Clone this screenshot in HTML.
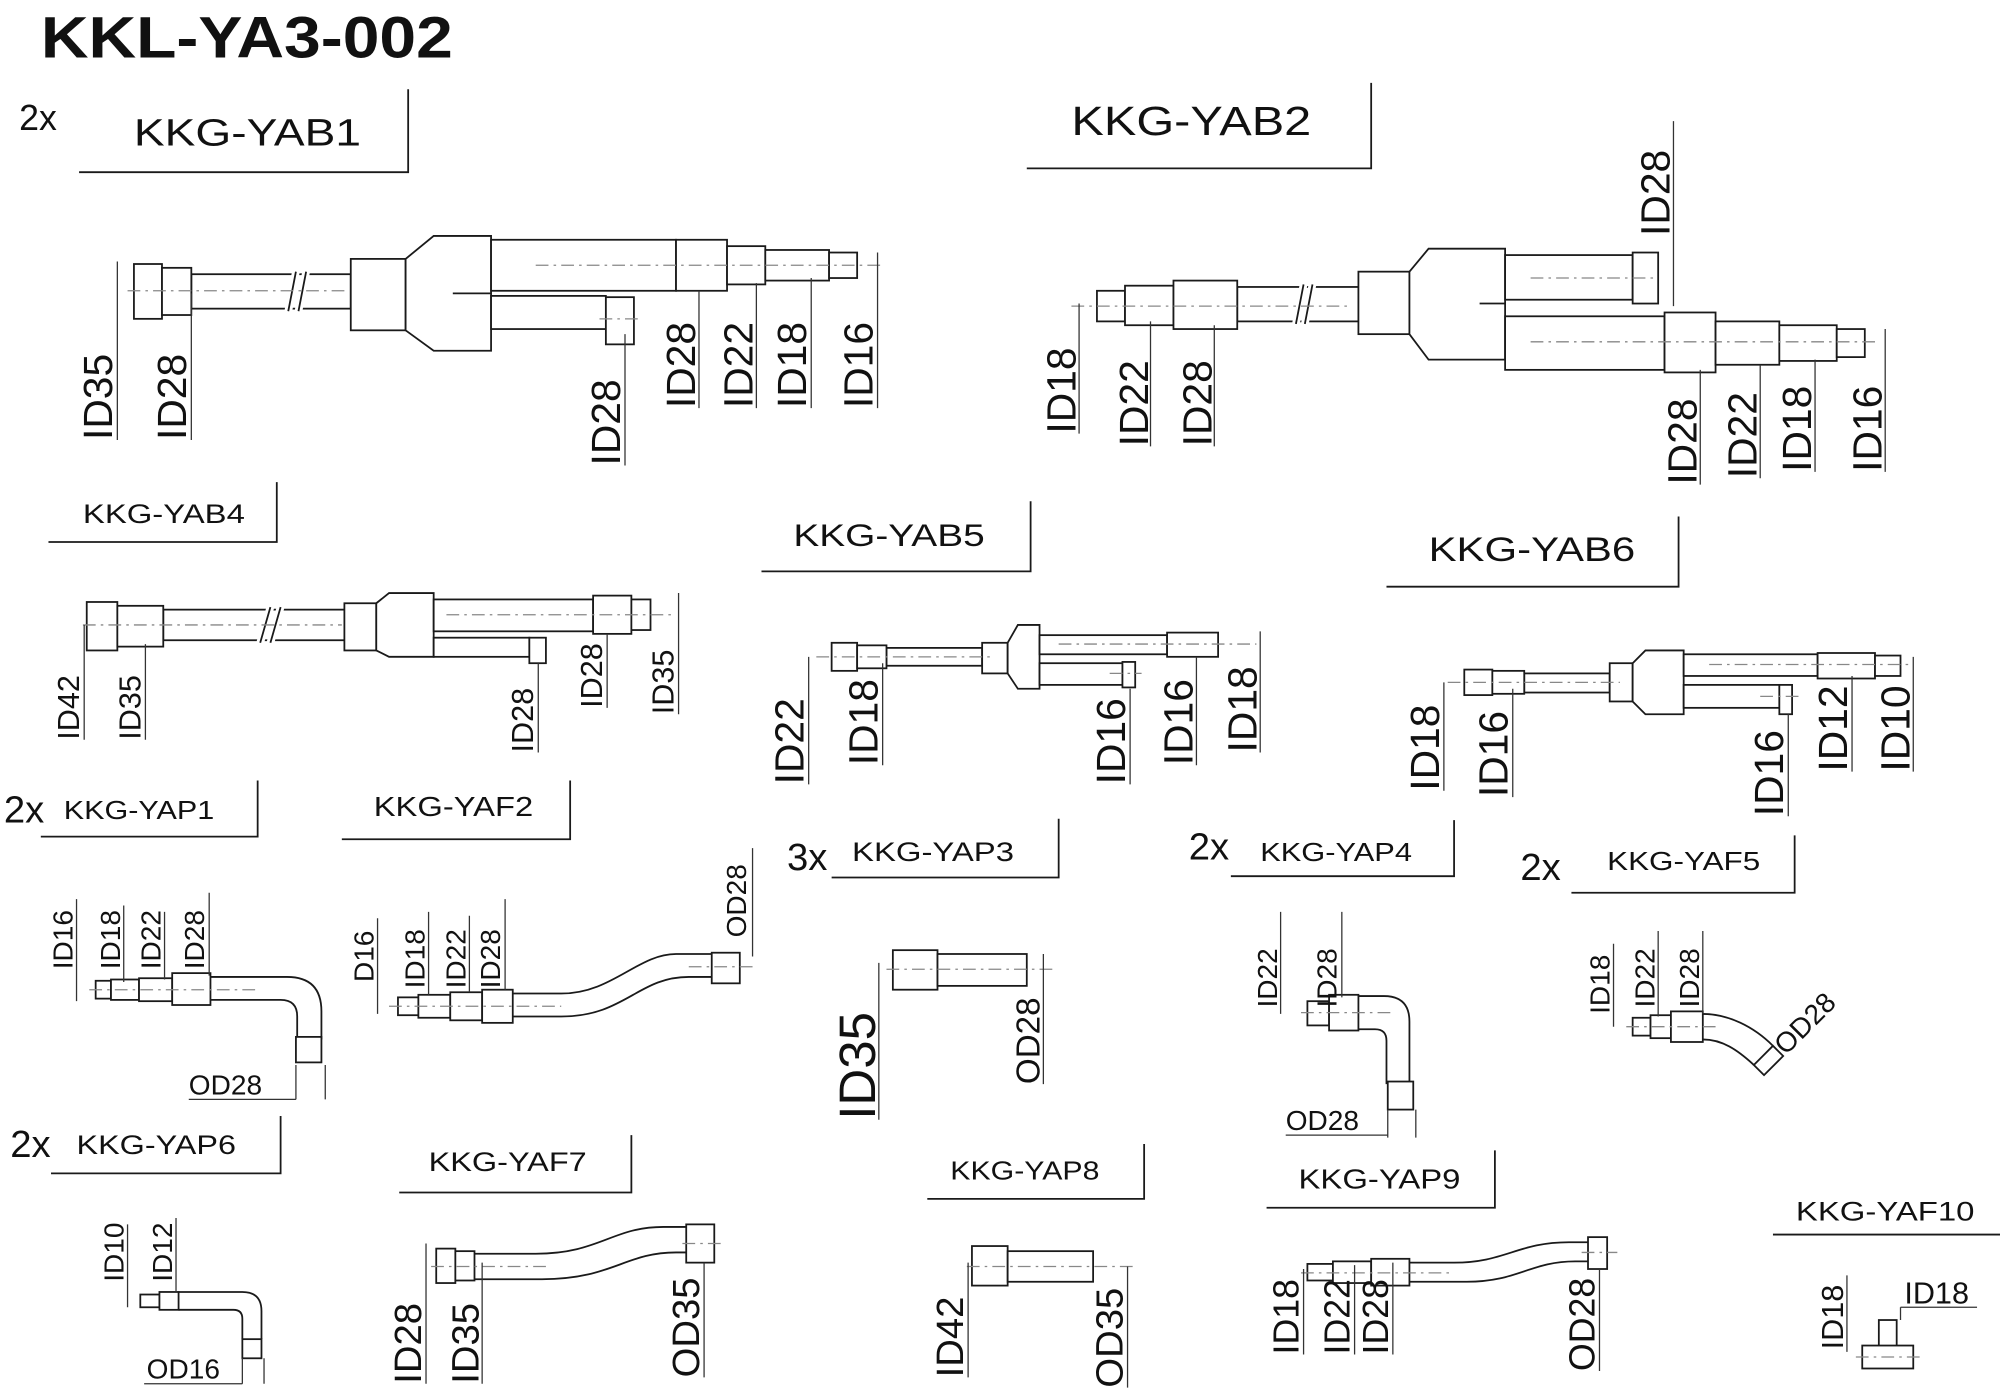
<!DOCTYPE html>
<html><head><meta charset="utf-8"><style>
html,body{margin:0;padding:0;background:#fff;}
svg{display:block;}
text{font-family:"Liberation Sans",sans-serif;fill:#111;}
.s{stroke:#1a1a1a;stroke-width:1.4;fill:#fff;}
.l{stroke:#1a1a1a;stroke-width:1.4;fill:none;}
.c{stroke:#888;stroke-width:1;fill:none;stroke-dasharray:10 4 2 4;}
.d{stroke:#333;stroke-width:1;fill:none;}
.r{font-size:32px;}
</style></head><body>
<svg width="2000" height="1394" viewBox="0 0 1568 1093" preserveAspectRatio="none" xmlns="http://www.w3.org/2000/svg">
<text x="32" y="45" style="font-size:46px;font-weight:bold" textLength="323" lengthAdjust="spacingAndGlyphs">KKL-YA3-002</text>

<!-- labels -->
<g class="l">
<path d="M62 135H320V70"/><path d="M805 132H1075V65"/><path d="M38 425H217V378"/>
<path d="M597 448H808V393"/><path d="M1087 460H1316V405"/><path d="M32 656H202V612"/>
<path d="M268 658H447V612"/><path d="M652 688H830V642"/><path d="M965 687H1140V643"/>
<path d="M1232 700H1407V655"/><path d="M40 920H220V875"/><path d="M313 935H495V890"/>
<path d="M727 940H897V897"/><path d="M993 947H1172V902"/><path d="M1390 968H1568"/>
</g>
<g style="" >
<text x="15" y="102" style="font-size:28px">2x</text>
<text x="105" y="114" style="font-size:30px" textLength="178" lengthAdjust="spacingAndGlyphs">KKG-YAB1</text>
<text x="840" y="106" style="font-size:32px" textLength="188" lengthAdjust="spacingAndGlyphs">KKG-YAB2</text>
<text x="65" y="410" style="font-size:21px" textLength="127" lengthAdjust="spacingAndGlyphs">KKG-YAB4</text>
<text x="622" y="428" style="font-size:25px" textLength="150" lengthAdjust="spacingAndGlyphs">KKG-YAB5</text>
<text x="1120" y="440" style="font-size:27px" textLength="162" lengthAdjust="spacingAndGlyphs">KKG-YAB6</text>
<text x="3" y="645" style="font-size:30px">2x</text><text x="50" y="642" style="font-size:20px" textLength="118" lengthAdjust="spacingAndGlyphs">KKG-YAP1</text>
<text x="293" y="640" style="font-size:22px" textLength="125" lengthAdjust="spacingAndGlyphs">KKG-YAF2</text>
<text x="617" y="682" style="font-size:30px">3x</text><text x="668" y="675" style="font-size:21px" textLength="127" lengthAdjust="spacingAndGlyphs">KKG-YAP3</text>
<text x="932" y="674" style="font-size:30px">2x</text><text x="988" y="675" style="font-size:20px" textLength="119" lengthAdjust="spacingAndGlyphs">KKG-YAP4</text>
<text x="1192" y="690" style="font-size:30px">2x</text><text x="1260" y="682" style="font-size:20px" textLength="120" lengthAdjust="spacingAndGlyphs">KKG-YAF5</text>
<text x="8" y="907" style="font-size:30px">2x</text><text x="60" y="905" style="font-size:21px" textLength="125" lengthAdjust="spacingAndGlyphs">KKG-YAP6</text>
<text x="336" y="918" style="font-size:21px" textLength="124" lengthAdjust="spacingAndGlyphs">KKG-YAF7</text>
<text x="745" y="925" style="font-size:20px" textLength="117" lengthAdjust="spacingAndGlyphs">KKG-YAP8</text>
<text x="1018" y="932" style="font-size:22px" textLength="127" lengthAdjust="spacingAndGlyphs">KKG-YAP9</text>
<text x="1408" y="957" style="font-size:21px" textLength="140" lengthAdjust="spacingAndGlyphs">KKG-YAF10</text>
</g>

<!-- YAB1 -->
<g>
<rect class="s" x="150" y="215" width="125" height="27"/>
<path class="l" d="M232 213L226 244M240 213L234 244" style="stroke:#fff;stroke-width:6"/>
<path class="l" d="M232 213L226 244M240 213L234 244"/>
<rect class="s" x="105" y="207" width="22" height="43"/><rect class="s" x="127" y="210" width="23" height="37"/>
<rect class="s" x="275" y="203" width="43" height="56"/>
<path class="s" d="M318 203L340 185H385V275H340L318 259Z"/>
<rect class="s" x="385" y="188" width="145" height="40"/>
<rect class="s" x="385" y="232" width="90" height="26"/>
<rect class="s" x="475" y="233" width="22" height="37"/>
<rect class="s" x="530" y="188" width="40" height="40"/><rect class="s" x="570" y="193" width="30" height="30"/>
<rect class="s" x="600" y="196" width="50" height="24"/><rect class="s" x="650" y="198" width="22" height="20"/>
<path class="l" d="M355 230H385"/>
<path class="c" d="M100 228H270M420 208H690M470 250H500"/>
<g class="d"><path d="M92 205V345M150 230V345M490 262V365M548 228V320M593 222V320M636 218V320M688 198V320"/></g>
<text class="r" transform="translate(88 345) rotate(-90)">ID35</text>
<text class="r" transform="translate(146 345) rotate(-90)">ID28</text>
<text class="r" transform="translate(486 365) rotate(-90)">ID28</text>
<text class="r" transform="translate(545 320) rotate(-90)">ID28</text>
<text class="r" transform="translate(590 320) rotate(-90)">ID22</text>
<text class="r" transform="translate(632 320) rotate(-90)">ID18</text>
<text class="r" transform="translate(684 320) rotate(-90)">ID16</text>
</g>

<!-- YAB2 -->
<g>
<rect class="s" x="970" y="225" width="95" height="27"/>
<path class="l" d="M1022 223L1016 254M1029 223L1023 254" style="stroke:#fff;stroke-width:6"/>
<path class="l" d="M1022 223L1016 254M1029 223L1023 254"/>
<rect class="s" x="860" y="228" width="22" height="24"/><rect class="s" x="882" y="224" width="38" height="31"/>
<rect class="s" x="920" y="220" width="50" height="38"/>
<rect class="s" x="1065" y="213" width="40" height="49"/>
<path class="s" d="M1105 213L1120 195H1180V282H1120L1105 262Z"/>
<rect class="s" x="1180" y="200" width="100" height="35"/><rect class="s" x="1280" y="198" width="20" height="40"/>
<rect class="s" x="1180" y="248" width="125" height="42"/>
<rect class="s" x="1305" y="245" width="40" height="47"/><rect class="s" x="1345" y="252" width="50" height="34"/>
<rect class="s" x="1395" y="255" width="45" height="28"/><rect class="s" x="1440" y="258" width="22" height="22"/>
<path class="l" d="M1160 238H1180"/>
<path class="c" d="M840 240H1060M1200 218H1300M1200 268H1470"/>
<g class="d"><path d="M846 238V340M902 252V350M952 255V350M1312 95V240M1333 290V380M1380 286V375M1423 282V370M1478 258V370"/></g>
<text class="r" transform="translate(843 340) rotate(-90)">ID18</text>
<text class="r" transform="translate(900 350) rotate(-90)">ID22</text>
<text class="r" transform="translate(950 350) rotate(-90)">ID28</text>
<text class="r" transform="translate(1309 185) rotate(-90)">ID28</text>
<text class="r" transform="translate(1330 380) rotate(-90)">ID28</text>
<text class="r" transform="translate(1377 375) rotate(-90)">ID22</text>
<text class="r" transform="translate(1420 370) rotate(-90)">ID18</text>
<text class="r" transform="translate(1475 370) rotate(-90)">ID16</text>
</g>

<!-- YAB4 -->
<g>
<rect class="s" x="128" y="478" width="142" height="24"/>
<path class="l" d="M212 476L204 504M220 476L212 504" style="stroke:#fff;stroke-width:6"/>
<path class="l" d="M212 476L204 504M220 476L212 504"/>
<rect class="s" x="68" y="472" width="24" height="38"/><rect class="s" x="92" y="475" width="36" height="32"/>
<rect class="s" x="270" y="473" width="25" height="37"/>
<path class="s" d="M295 473L305 465H340V515H305L295 510Z"/>
<rect class="s" x="340" y="470" width="125" height="25"/>
<rect class="s" x="340" y="500" width="75" height="15"/><rect class="s" x="415" y="500" width="13" height="20"/>
<rect class="s" x="465" y="467" width="30" height="30"/><rect class="s" x="495" y="470" width="15" height="24"/>
<path class="c" d="M65 490H268M350 482H530"/>
<g class="d"><path d="M66 490V580M114 505V580M422 520V590M476 497V555M532 465V560"/></g>
<text style="font-size:24px" transform="translate(62 580) rotate(-90)">ID42</text>
<text style="font-size:24px" transform="translate(110 580) rotate(-90)">ID35</text>
<text style="font-size:24px" transform="translate(418 590) rotate(-90)">ID28</text>
<text style="font-size:24px" transform="translate(472 555) rotate(-90)">ID28</text>
<text style="font-size:24px" transform="translate(528 560) rotate(-90)">ID35</text>
</g>

<!-- YAB5 -->
<g>
<rect class="s" x="695" y="508" width="75" height="14"/>
<rect class="s" x="652" y="504" width="20" height="22"/><rect class="s" x="672" y="506" width="23" height="18"/>
<rect class="s" x="770" y="504" width="20" height="24"/>
<path class="s" d="M790 504L798 490H815V540H798L790 528Z"/>
<rect class="s" x="815" y="498" width="100" height="15"/><rect class="s" x="915" y="496" width="40" height="19"/>
<rect class="s" x="815" y="520" width="65" height="17"/><rect class="s" x="880" y="519" width="10" height="20"/>
<path class="c" d="M640 515H780M830 505H985M870 528H895"/>
<g class="d"><path d="M634 515V615M692 520V600M886 540V615M938 515V600M988 495V590"/></g>
<text class="r" transform="translate(630 615) rotate(-90)">ID22</text>
<text class="r" transform="translate(688 600) rotate(-90)">ID18</text>
<text class="r" transform="translate(882 615) rotate(-90)">ID16</text>
<text class="r" transform="translate(935 600) rotate(-90)">ID16</text>
<text class="r" transform="translate(985 590) rotate(-90)">ID18</text>
</g>

<!-- YAB6 -->
<g>
<rect class="s" x="1195" y="528" width="67" height="15"/>
<rect class="s" x="1148" y="525" width="22" height="20"/><rect class="s" x="1170" y="526" width="25" height="18"/>
<rect class="s" x="1262" y="520" width="18" height="30"/>
<path class="s" d="M1280 520L1290 510H1320V560H1290L1280 550Z"/>
<rect class="s" x="1320" y="513" width="105" height="17"/><rect class="s" x="1425" y="512" width="45" height="20"/><rect class="s" x="1470" y="514" width="20" height="16"/>
<rect class="s" x="1320" y="537" width="75" height="18"/><rect class="s" x="1395" y="537" width="10" height="23"/>
<path class="c" d="M1135 535H1270M1340 521H1500M1380 546H1410"/>
<g class="d"><path d="M1132 535V620M1186 540V625M1402 560V640M1452 530V605M1500 515V605"/></g>
<text class="r" transform="translate(1128 620) rotate(-90)">ID18</text>
<text class="r" transform="translate(1182 625) rotate(-90)">ID16</text>
<text class="r" transform="translate(1398 640) rotate(-90)">ID16</text>
<text class="r" transform="translate(1448 605) rotate(-90)">ID12</text>
<text class="r" transform="translate(1497 605) rotate(-90)">ID10</text>
</g>

<!-- YAP1 -->
<g>
<path class="l" d="M165 766H225Q252 766 252 793V815M165 784H220Q233 784 233 797V815"/>
<rect class="s" x="232" y="813" width="20" height="20"/>
<rect class="s" x="75" y="769" width="12" height="14"/><rect class="s" x="87" y="768" width="22" height="16"/><rect class="s" x="109" y="767" width="26" height="18"/>
<rect class="s" x="135" y="763" width="30" height="25"/>
<path class="c" d="M70 776H200"/>
<g class="d"><path d="M60 705V785M97 710V770M129 715V768M164 700V765M232 835V862M255 835V862M148 862H232"/></g>
<text style="font-size:22px" transform="translate(57 760) rotate(-90)">ID16</text>
<text style="font-size:22px" transform="translate(94 760) rotate(-90)">ID18</text>
<text style="font-size:22px" transform="translate(126 760) rotate(-90)">ID22</text>
<text style="font-size:22px" transform="translate(160 760) rotate(-90)">ID28</text>
<text x="148" y="858" style="font-size:22px">OD28</text>
</g>

<!-- YAF2 -->
<g>
<path class="l" d="M400 779H440C480 779 500 748 530 748H558M400 797H440C490 797 500 766 540 766H558"/>
<rect class="s" x="312" y="782" width="16" height="14"/><rect class="s" x="328" y="780" width="25" height="18"/><rect class="s" x="353" y="778" width="25" height="22"/>
<rect class="s" x="378" y="776" width="24" height="26"/>
<rect class="s" x="558" y="747" width="22" height="24"/>
<path class="c" d="M305 789H440M540 758H590"/>
<g class="d"><path d="M296 720V795M336 715V780M368 718V778M396 705V776M590 665V750"/></g>
<text style="font-size:22px" transform="translate(293 770) rotate(-90)">D16</text>
<text style="font-size:22px" transform="translate(333 775) rotate(-90)">ID18</text>
<text style="font-size:22px" transform="translate(365 775) rotate(-90)">ID22</text>
<text style="font-size:22px" transform="translate(392 775) rotate(-90)">ID28</text>
<text style="font-size:22px" transform="translate(585 735) rotate(-90)">OD28</text>
</g>

<!-- YAP3 -->
<g>
<rect class="s" x="700" y="745" width="35" height="31"/><rect class="s" x="735" y="748" width="70" height="25"/>
<path class="c" d="M695 760H828"/>
<g class="d"><path d="M689 755V878M818 748V850"/></g>
<text style="font-size:40px" transform="translate(686 878) rotate(-90)">ID35</text>
<text style="font-size:26px" transform="translate(815 850) rotate(-90)">OD28</text>
</g>

<!-- YAP4 -->
<g>
<path class="l" d="M1065 781H1085Q1105 781 1105 801V850M1065 807H1078Q1087 807 1087 816V850"/>
<rect class="s" x="1025" y="785" width="17" height="19"/><rect class="s" x="1042" y="780" width="23" height="28"/>
<rect class="s" x="1088" y="848" width="20" height="22"/>
<path class="c" d="M1020 794H1090"/>
<g class="d"><path d="M1004 715V795M1052 715V782M1088 870V892M1110 870V892M1008 890H1088"/></g>
<text style="font-size:22px" transform="translate(1001 790) rotate(-90)">ID22</text>
<text style="font-size:22px" transform="translate(1048 790) rotate(-90)">ID28</text>
<text x="1008" y="886" style="font-size:22px">OD28</text>
</g>

<!-- YAF5 -->
<g>
<path class="l" d="M1335 795C1355 795 1375 805 1390 820M1335 815C1350 815 1362 823 1375 835"/>
<rect class="s" x="1280" y="798" width="14" height="14"/><rect class="s" x="1294" y="796" width="16" height="18"/><rect class="s" x="1310" y="793" width="25" height="24"/>
<path class="s" d="M1375 835L1390 820L1398 828L1383 843Z"/>
<path class="c" d="M1275 805H1345"/>
<g class="d"><path d="M1265 740V805M1300 730V797M1335 730V795"/></g>
<text style="font-size:22px" transform="translate(1262 795) rotate(-90)">ID18</text>
<text style="font-size:22px" transform="translate(1297 790) rotate(-90)">ID22</text>
<text style="font-size:22px" transform="translate(1332 790) rotate(-90)">ID28</text>
<text style="font-size:22px" transform="translate(1400 828) rotate(-45)">OD28</text>
</g>

<!-- YAP6 -->
<g>
<path class="l" d="M140 1013H190Q205 1013 205 1028V1050M140 1027H183Q190 1027 190 1034V1050"/>
<rect class="s" x="110" y="1015" width="15" height="10"/><rect class="s" x="125" y="1013" width="15" height="14"/>
<rect class="s" x="190" y="1050" width="15" height="15"/>
<g class="d"><path d="M100 960V1025M138 955V1013M190 1065V1085M207 1065V1085M113 1085H190"/></g>
<text style="font-size:22px" transform="translate(97 1005) rotate(-90)">ID10</text>
<text style="font-size:22px" transform="translate(135 1005) rotate(-90)">ID12</text>
<text x="115" y="1081" style="font-size:22px">OD16</text>
</g>

<!-- YAF7 -->
<g>
<path class="l" d="M372 983H420C470 983 480 962 520 962H538M372 1003H425C480 1003 490 982 530 982H538"/>
<rect class="s" x="342" y="979" width="15" height="27"/><rect class="s" x="357" y="981" width="15" height="23"/>
<rect class="s" x="538" y="960" width="22" height="30"/>
<path class="c" d="M338 993H430M535 975H565"/>
<g class="d"><path d="M334 975V1085M378 990V1085M552 990V1080"/></g>
<text style="font-size:30px" transform="translate(330 1085) rotate(-90)">ID28</text>
<text style="font-size:30px" transform="translate(375 1085) rotate(-90)">ID35</text>
<text style="font-size:30px" transform="translate(548 1080) rotate(-90)">OD35</text>
</g>

<!-- YAP8 -->
<g>
<rect class="s" x="762" y="977" width="28" height="31"/><rect class="s" x="790" y="981" width="67" height="24"/>
<path class="c" d="M758 993H890"/>
<g class="d"><path d="M759 990V1080M884 993V1088"/></g>
<text style="font-size:30px" transform="translate(755 1080) rotate(-90)">ID42</text>
<text style="font-size:30px" transform="translate(880 1088) rotate(-90)">OD35</text>
</g>

<!-- YAP9 -->
<g>
<path class="l" d="M1105 990H1140C1180 990 1190 974 1230 974H1245M1105 1005H1150C1190 1005 1200 989 1235 989H1245"/>
<rect class="s" x="1025" y="991" width="20" height="13"/><rect class="s" x="1045" y="989" width="30" height="17"/><rect class="s" x="1075" y="987" width="30" height="21"/>
<rect class="s" x="1245" y="970" width="15" height="25"/>
<path class="c" d="M1020 998H1140M1240 982H1268"/>
<g class="d"><path d="M1022 995V1062M1062 992V1062M1092 990V1062M1254 995V1075"/></g>
<text style="font-size:28px" transform="translate(1018 1062) rotate(-90)">ID18</text>
<text style="font-size:28px" transform="translate(1058 1062) rotate(-90)">ID22</text>
<text style="font-size:28px" transform="translate(1088 1062) rotate(-90)">ID28</text>
<text style="font-size:28px" transform="translate(1250 1075) rotate(-90)">OD28</text>
</g>

<!-- YAF10 -->
<g>
<rect class="s" x="1473" y="1035" width="14" height="22"/>
<rect class="s" x="1460" y="1055" width="40" height="18"/>
<path class="c" d="M1455 1064H1505"/>
<g class="d"><path d="M1448 1000V1060M1490 1025H1550M1490 1025V1035"/></g>
<text style="font-size:24px" transform="translate(1445 1058) rotate(-90)">ID18</text>
<text x="1493" y="1022" style="font-size:24px">ID18</text>
</g>
</svg>
</body></html>
